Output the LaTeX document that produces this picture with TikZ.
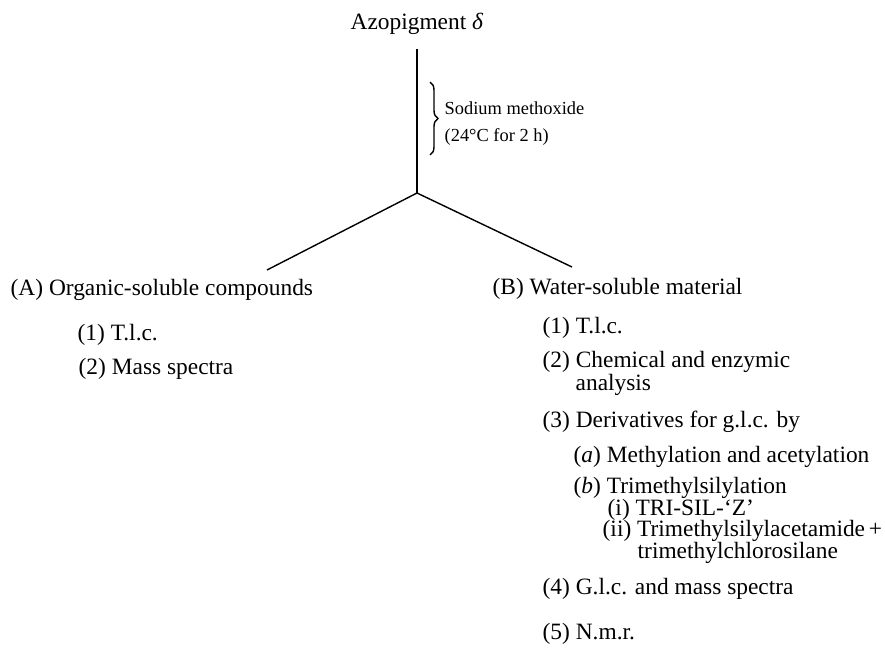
\documentclass[tikz,border=0pt]{standalone}
\usepackage{fontspec}
\setmainfont{Liberation Serif}
\usetikzlibrary{decorations.pathreplacing}
\begin{document}
\begin{tikzpicture}[x=0.5pt, y=-0.5pt, line width=0.7pt,
  main/.style = {anchor=west, inner sep=0pt, yshift=-1pt, font=\fontsize{11.7}{14}\selectfont},
  note/.style = {anchor=west, inner sep=0pt, font=\fontsize{9.2}{11}\selectfont}]
\useasboundingbox (0,0) rectangle (885,648);

\node[main, anchor=center] (top) at (417,22) {Azopigment \textit{δ}};
\coordinate (j) at (417,193);
\coordinate (ea) at (267,270);
\coordinate (eb) at (572,267);

\node[note] (n1) at (444,108) {Sodium methoxide};
\node[note] (n2) at (444,137) {(24°C for 2 h)};

\node[main] (A) at (10,288) {(A) Organic-soluble compounds};
\node[main] (A1) at (77,333) {(1) T.l.c.};
\node[main] (A2) at (78,367) {(2) Mass spectra};

\node[main] (B) at (492,287) {(B) Water-soluble material};
\node[main] (B1) at (542,326) {(1) T.l.c.};
\node[main] (B2) at (542,360) {(2) Chemical and enzymic};
\node[main] (B2b) at (575,383) {analysis};
\node[main] (B3) at (542,420) {(3) Derivatives for g.l.c. by};
\node[main] (B3a) at (573,455) {(\textit{a}) Methylation and acetylation};
\node[main] (B3b) at (573,486) {(\textit{b}) Trimethylsilylation};
\node[main] (B3i) at (607,508) {(i) TRI-SIL-`Z'};
\node[main] (B3ii) at (602,529) {(ii) Trimethylsilylacetamide\,+};
\node[main] (B3c) at (637,551) {trimethylchlorosilane};
\node[main] (B4) at (542,587) {(4) G.l.c. and mass spectra};
\node[main] (B5) at (542,632) {(5) N.m.r.};

\draw[shorten <=7pt] (top) -- (j);
\draw (j) -- (ea);
\draw (j) -- (eb);
\draw[decorate, decoration={brace, amplitude=4pt}] (430,82) -- (430,155);

\end{tikzpicture}
\end{document}
